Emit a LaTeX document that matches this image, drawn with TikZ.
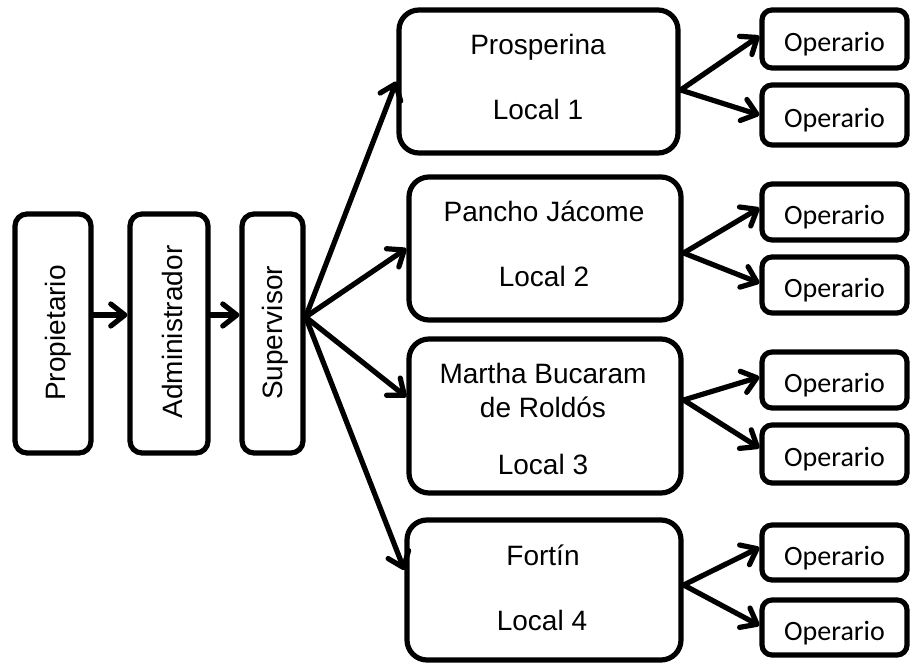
\documentclass[tikz,border=0pt]{standalone}
\usepackage{fontspec}
\setmainfont{Liberation Sans}
\newfontfamily\calib{Carlito}
\usetikzlibrary{arrows.meta,calc}
\begin{document}
\begin{tikzpicture}[x=1pt,y=-1pt,
  lw/.style={line width=5.2pt},
  vbox/.style={draw, lw, rounded corners=12pt, inner sep=0pt},
  lbox/.style={draw, lw, rounded corners=20pt, inner sep=0pt, minimum width=274pt},
  obox/.style={draw, lw, rounded corners=10pt, inner sep=0pt, minimum width=145pt},
  ltext/.style={font=\fontsize{28}{32}\selectfont, anchor=base, inner sep=0pt},
  vtext/.style={ltext, rotate=90},
  otext/.style={font=\calib\fontsize{28}{32}\selectfont, anchor=base, inner sep=0pt},
  arr/.style={lw, line cap=round, line join=round, -{Straight Barb[length=14pt,width=22pt,round]}}
]
\useasboundingbox (0,0) rectangle (911,663);

% left chain
\node[vbox, minimum width=76pt, minimum height=239pt] (prop) at (53,333.5) {};
\node[vbox, minimum width=78pt, minimum height=239pt] (adm) at (169,333.5) {};
\node[vbox, minimum width=61pt, minimum height=239pt] (sup) at (272.5,333.5) {};
\node[vtext] (propt) at (65,333) {Propietario};
\node[vtext] (admt) at (182,332) {Administrador};
\node[vtext] (supt) at (282,333) {Supervisor};

% locals
\node[lbox, minimum width=279pt, minimum height=143pt] (loc1) at (538.5,81.5) {};
\node[lbox, minimum width=272pt, minimum height=143pt] (loc2) at (545,248.5) {};
\node[lbox, minimum width=272pt, minimum height=154pt] (loc3) at (545,416) {};
\node[lbox, minimum width=274pt, minimum height=140pt] (loc4) at (544,590) {};

\node[ltext] (l1a) at (538,55) {Prosperina};
\node[ltext] (l1b) at (538,120) {Local 1};
\node[ltext] (l2a) at (544,222) {Pancho Jácome};
\node[ltext] (l2b) at (544,287) {Local 2};
\node[ltext] (l3a) at (543,383) {Martha Bucaram};
\node[ltext] (l3b) at (543,417) {de Roldós};
\begin{scope}
  \clip (410,340) rectangle (680,474);
  \node[ltext] (l3c) at (543,474) {Local 3};
\end{scope}
\node[ltext] (l4a) at (543,565) {Fortín};
\node[ltext] (l4b) at (542,630) {Local 4};

% operarios
\node[obox, minimum height=58pt] (o11) at (834.5,39) {};
\node[obox, minimum height=60pt] (o12) at (834.5,115) {};
\node[obox, minimum height=56pt] (o21) at (834.5,212) {};
\node[obox, minimum height=56pt] (o22) at (834.5,285) {};
\node[obox, minimum height=56pt] (o31) at (834.5,380) {};
\node[obox, minimum height=58pt] (o32) at (834.5,454) {};
\node[obox, minimum height=55pt] (o41) at (834.5,552.5) {};
\node[obox, minimum height=55pt] (o42) at (834.5,627.5) {};
\foreach \o in {o11,o12,o21,o22,o31,o32,o41,o42}{
  \node[otext] (\o t) at ($(\o.center)+(0,12.5)$) {Operario};
}

% connectors
\draw[arr] ($(prop.east)+(0,-18.5)$) -- ($(adm.west)+(0,-18.5)$);
\draw[arr] ($(adm.east)+(0,-18.5)$) -- ($(sup.west)+(0,-18.5)$);

\coordinate (s) at ($(sup.east)+(0,-16.5)$);
\draw[arr] (s) -- (loc1.west);
\draw[arr] (s) -- (loc2.west);
\draw[arr] (s) -- ($(loc3.west)+(0,-19)$);
\draw[arr] (s) -- ($(loc4.west)+(0,-20)$);

\draw[arr] ($(loc1.east)+(0,8.5)$) -- ($(o11.west)+(0,-3)$);
\draw[arr] ($(loc1.east)+(0,8.5)$) -- (o12.west);
\draw[arr] ($(loc2.east)+(0,4.5)$) -- ($(o21.west)+(0,-4)$);
\draw[arr] ($(loc2.east)+(0,4.5)$) -- ($(o22.west)+(0,-2)$);
\draw[arr] ($(loc3.east)+(0,-16)$) -- ($(o31.west)+(0,-3)$);
\draw[arr] ($(loc3.east)+(0,-16)$) -- ($(o32.west)+(0,-6)$);
\draw[arr] ($(loc4.east)+(0,-5)$) -- ($(o41.west)+(0,-5)$);
\draw[arr] ($(loc4.east)+(0,-5)$) -- ($(o42.west)+(0,-2)$);
\end{tikzpicture}
\end{document}
